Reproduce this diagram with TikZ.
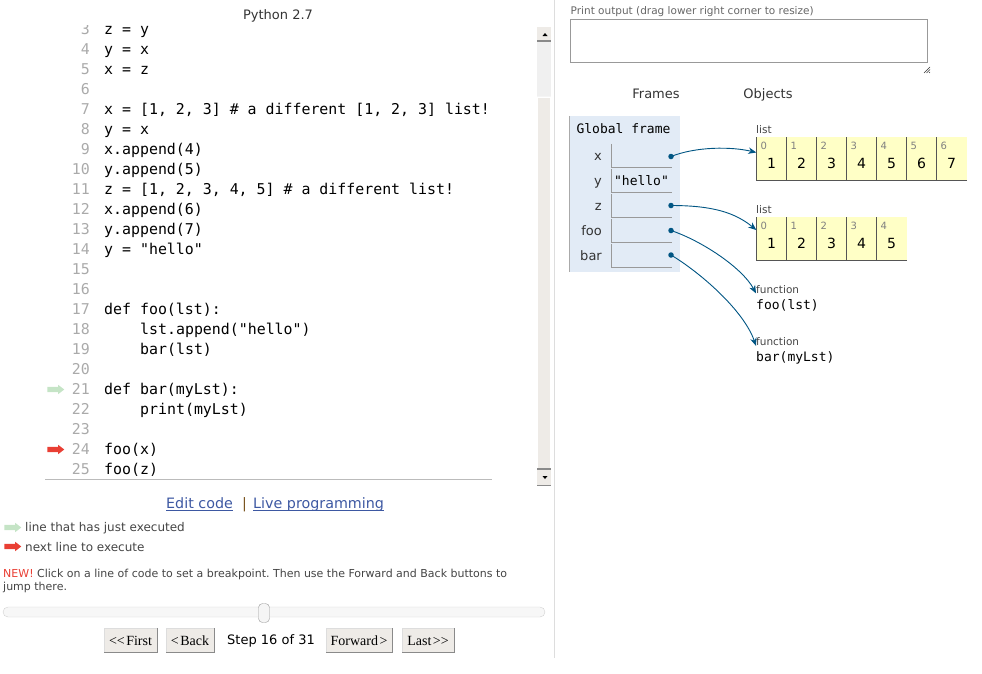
\documentclass[tikz,border=0pt]{standalone}
\usepackage{fontspec}
\setmainfont{DejaVu Sans}
\setmonofont{DejaVu Sans Mono}
\newfontfamily\btnfont{Liberation Serif}
\usepackage{tikz}
\usetikzlibrary{shapes}
\usetikzlibrary{arrows}
\usetikzlibrary{arrows.meta}
\usetikzlibrary{positioning}
\definecolor{lnogray}{HTML}{AAAAAA}
\definecolor{darktext}{HTML}{333333}
\definecolor{midtext}{HTML}{444444}
\definecolor{softtext}{HTML}{666666}
\definecolor{idxgray}{HTML}{808080}
\definecolor{lightline}{HTML}{DDDDDD}
\definecolor{ruleline}{HTML}{BBBBBB}
\definecolor{linkblue}{HTML}{3D58A2}
\definecolor{pipebrown}{HTML}{7A5520}
\definecolor{newred}{HTML}{E93F34}
\definecolor{donegreen}{HTML}{C5E4C6}
\definecolor{btnfill}{HTML}{EEEBE7}
\definecolor{btnedge}{HTML}{8A8A8A}
\definecolor{framebg}{HTML}{E2EBF6}
\definecolor{frameedge}{HTML}{AAAAAA}
\definecolor{boxgray}{HTML}{999999}
\definecolor{cellbg}{HTML}{FFFFC6}
\definecolor{celledge}{HTML}{555555}
\definecolor{ptrblue}{HTML}{005583}
\tikzstyle{codeline}=[anchor=base west,inner sep=0pt,font=\ttfamily\fontsize{14.9}{14.9}\selectfont]
\tikzstyle{lineno}=[anchor=base east,inner sep=0pt,text=lnogray,font=\ttfamily\fontsize{14.9}{14.9}\selectfont]
\tikzstyle{hdr}=[anchor=base,inner sep=0pt,text=darktext,font=\fontsize{13}{13}\selectfont]
\tikzstyle{hlarrow}=[single arrow,inner xsep=0pt,inner ysep=2.5pt,minimum height=17pt,
        single arrow head extend=2pt,single arrow tip angle=75]
\tikzstyle{legendtxt}=[anchor=base west,inner sep=0pt,text=midtext,font=\fontsize{12}{12}\selectfont]
\tikzstyle{hint}=[anchor=base west,inner sep=0pt,text=midtext,font=\fontsize{11}{11}\selectfont]
\tikzstyle{link}=[anchor=base west,inner sep=0pt,text=linkblue,font=\fontsize{14.3}{14.3}\selectfont]
\tikzstyle{linkline}=[draw=linkblue,line width=0.9pt]
\tikzstyle{btn}=[draw=lightline,fill=btnfill,minimum height=24pt,inner sep=0pt,
        font=\btnfont\fontsize{14}{14}\selectfont]
\tikzstyle{btnshade}=[draw=btnedge,line width=1.3pt]
\tikzstyle{knob}=[draw=boxgray,fill=white!96!black,rounded corners=4pt,minimum width=11pt,minimum height=19pt,inner sep=0pt]
\tikzstyle{smallgray}=[anchor=base west,inner sep=0pt,text=softtext,font=\fontsize{10.5}{10.5}\selectfont]
\tikzstyle{outbox}=[draw=boxgray,line width=1pt,minimum width=357pt,minimum height=43pt,inner sep=0pt]
\tikzstyle{gframe}=[fill=framebg,minimum width=110pt,minimum height=156pt,inner sep=0pt]
\tikzstyle{monotxt}=[anchor=base,inner sep=0pt,font=\ttfamily\fontsize{13}{13}\selectfont]
\tikzstyle{varname}=[anchor=base east,inner sep=0pt,text=darktext,font=\fontsize{13}{13}\selectfont]
\tikzstyle{varbox}=[minimum width=60pt,minimum height=23pt,inner sep=0pt]
\tikzstyle{boxedge}=[draw=boxgray,line width=0.9pt]
\tikzstyle{ptrdot}=[circle,fill=ptrblue,minimum size=5.5pt,inner sep=0pt]
\tikzstyle{ptr}=[-{Stealth[length=8pt,width=6.5pt,inset=2.5pt]},draw=ptrblue,line width=0.9pt]
\tikzstyle{typelbl}=[anchor=base west,inner sep=0pt,text=midtext,font=\fontsize{10.5}{10.5}\selectfont]
\tikzstyle{fnname}=[anchor=base west,inner sep=0pt,font=\ttfamily\fontsize{13}{13}\selectfont]
\tikzstyle{cellrow}=[fill=cellbg,minimum height=43pt,inner sep=0pt]
\tikzstyle{cellsep}=[draw=celledge,line width=0.9pt]
\tikzstyle{idxnum}=[anchor=base west,inner sep=0pt,text=idxgray,font=\fontsize{10}{10}\selectfont]
\tikzstyle{cellval}=[anchor=base,inner sep=0pt,font=\fontsize{14}{14}\selectfont]
\begin{document}
\frenchspacing
\begin{tikzpicture}[x=1pt,y=-1pt]
\useasboundingbox (0,0) rectangle (982,673);
%code panel
\node[hdr] (title) at (278,19.5) {Python 2.7};
\begin{scope}
\clip (0,25) rectangle (536,479);
\foreach \n in {3,...,25}
  \node[lineno] (no\n) at (90,{34+(\n-3)*20}) {\n};
\node[codeline] (c3) at (104,34) {z = y};
\node[codeline] (c4) at (104,54) {y = x};
\node[codeline] (c5) at (104,74) {x = z};
\node[codeline] (c7) at (104,114) {x = [1, 2, 3] \# a different [1, 2, 3] list!};
\node[codeline] (c8) at (104,134) {y = x};
\node[codeline] (c9) at (104,154) {x.append(4)};
\node[codeline] (c10) at (104,174) {y.append(5)};
\node[codeline] (c11) at (104,194) {z = [1, 2, 3, 4, 5] \# a different list!};
\node[codeline] (c12) at (104,214) {x.append(6)};
\node[codeline] (c13) at (104,234) {y.append(7)};
\node[codeline] (c14) at (104,254) {y = "hello"};
\node[codeline] (c17) at (104,314) {def foo(lst):};
\node[codeline] (c18) at (140,334) {lst.append("hello")};
\node[codeline] (c19) at (140,354) {bar(lst)};
\node[codeline] (c21) at (104,394) {def bar(myLst):};
\node[codeline] (c22) at (140,414) {print(myLst)};
\node[codeline] (c24) at (104,454) {foo(x)};
\node[codeline] (c25) at (104,474) {foo(z)};
\end{scope}
\node[hlarrow,fill=donegreen] (cur21) at (54,389.5) {};
\node[hlarrow,fill=newred] (cur24) at (54,449.5) {};
\draw[ruleline] (45,479.5) -- (492,479.5);
%scrollbar
\fill[gray!8] (537,27) rectangle (551,486);
\fill[btnfill] (537,27) rectangle (551,41);
\draw[btnedge,line width=1.5pt] (537,41) -- (551,41);
\fill[black] (542.5,36) -- (547.5,36) -- (545,33) -- cycle;
\fill[gray!12] (537,42) rectangle (551,96);
\filldraw[fill=btnfill,draw=white] (537.5,97) rectangle (550.5,468);
\fill[btnfill] (537,469.5) rectangle (551,485);
\draw[btnedge,line width=1.5pt] (537,469) -- (551,469);
\draw[btnedge,line width=1.5pt] (537,485.5) -- (551,485.5);
\fill[black] (542.5,476) -- (547.5,476) -- (545,479) -- cycle;
\draw[lightline] (554.5,0) -- (554.5,658);
%links and legend
\node[link] (ledit) at (166,508.3) {Edit code};
\node[link,text=pipebrown] (lbar) at (242,508.3) {|};
\node[link] (llive) at (253,508.3) {Live programming};
\draw[linkline] ([yshift=-2.2pt]ledit.base west) -- ([yshift=-2.2pt]ledit.base east);
\draw[linkline] ([yshift=-2.2pt]llive.base west) -- ([yshift=-2.2pt]llive.base east);
\node[hlarrow,fill=donegreen] (lgdone) at (11,527.5) {};
\node[legendtxt] (tdone) at (25,531.5) {line that has just executed};
\node[hlarrow,fill=newred] (lgnext) at (11,546.5) {};
\node[legendtxt] (tnext) at (25,551) {next line to execute};
\node[hint] (tip1) at (3,577) {\textcolor{newred}{NEW!} Click on a line of code to set a breakpoint. Then use the Forward and Back buttons to};
\node[hint] (tip2) at (3,590) {jump there.};
%slider and buttons
\draw[draw=gray!35,fill=gray!6,rounded corners=5pt] (3,607) rectangle (545,617);
\node[knob] (knob) at (264,613) {};
\node[btn,minimum width=53pt] (bfirst) at (130.5,640.5) {<\kern0pt<\hspace{1.5pt}First};
\node[btn,minimum width=48pt] (bback) at (190,640.5) {<\hspace{1.5pt}Back};
\node[hdr,text=black] (stepno) at (271,644.7) {Step 16 of 31};
\node[btn,minimum width=66pt] (bfwd) at (359,640.5) {Forward\hspace{1.5pt}>};
\node[btn,minimum width=52pt] (blast) at (428,640.5) {Last\hspace{1.5pt}>\kern0pt>};
\foreach \b in {bfirst,bback,bfwd,blast}
  \draw[btnshade] (\b.north east) -- (\b.south east) -- (\b.south west);
%print output
\node[smallgray] (plabel) at (570.5,14) {Print output (drag lower right corner to resize)};
\node[outbox] (pout) at (748.8,40.8) {};
\draw[darktext,line width=0.6pt] (930,67) -- (924,73) (930,69.5) -- (926.5,73) (930,72) -- (929,73);
%frames
\node[hdr] (hframes) at (656,98) {Frames};
\node[hdr] (hobjs) at (768,98) {Objects};
\node[gframe] (glob) at (625,194) {};
\draw[frameedge,line width=1pt] (glob.north west) -- (glob.south west);
\node[monotxt] (gtitle) at (623.5,133.5) {Global frame};
\foreach \v/\c in {x/155.5,y/180.5,z/205.5,foo/230.5,bar/255.5}{
  \node[varname] (n\v) at (602,\c+4.5) {\v};
  \node[varbox] (b\v) at (642,\c) {};
  \draw[boxedge] (b\v.north west) -- (b\v.south west) -- (b\v.south east);
}
\node[monotxt] (hy) at (641.5,185) {"hello"};
\node[ptrdot] (dx) at (671,156.5) {};
\node[ptrdot] (dz) at (671,205.5) {};
\node[ptrdot] (dfoo) at (671,230.5) {};
\node[ptrdot] (dbar) at (671,255) {};
%objects
\node[typelbl] (tl1) at (756,133) {list};
\node[cellrow,minimum width=210pt] (lst1) at (861.5,158.5) {};
\foreach \i/\v in {0/1,1/2,2/3,3/4,4/5,5/6,6/7}{
  \draw[cellsep] ({756.5+30*\i},137) -- ({756.5+30*\i},180);
  \node[idxnum] (ia\i) at ({756.5+30*\i+4},149.8) {\i};
  \node[cellval] (va\i) at ({756.5+30*\i+15},168.4) {\v};
}
\draw[cellsep] (lst1.south west) -- (lst1.south east);
\node[typelbl] (tl2) at (756,213) {list};
\node[cellrow,minimum width=150pt] (lst2) at (831.5,238.5) {};
\foreach \i/\v in {0/1,1/2,2/3,3/4,4/5}{
  \draw[cellsep] ({756.5+30*\i},217) -- ({756.5+30*\i},260);
  \node[idxnum] (ib\i) at ({756.5+30*\i+4},229.8) {\i};
  \node[cellval] (vb\i) at ({756.5+30*\i+15},248.4) {\v};
}
\draw[cellsep] (lst2.south west) -- (lst2.south east);
\node[typelbl] (tfoo) at (756,293) {function};
\node[fnname] (ofoo) at (756,309.5) {foo(lst)};
\node[typelbl] (tbar) at (756,345.5) {function};
\node[fnname] (obar) at (756,361) {bar(myLst)};
%pointers
\draw[ptr] (dx.center) .. controls +(25,-10) and +(-25,-6) .. ([yshift=6pt]lst1.west);
\draw[ptr] (dz.center) .. controls +(40,0) and +(-22,-18) .. ([yshift=8.5pt]lst2.west);
\draw[ptr] (dfoo.center) .. controls +(30,10) and +(-14,-26) .. (tfoo.south west);
\draw[ptr] (dbar.center) .. controls +(30,18) and +(-12,-35) .. (tbar.south west);
\end{tikzpicture}
\end{document}
